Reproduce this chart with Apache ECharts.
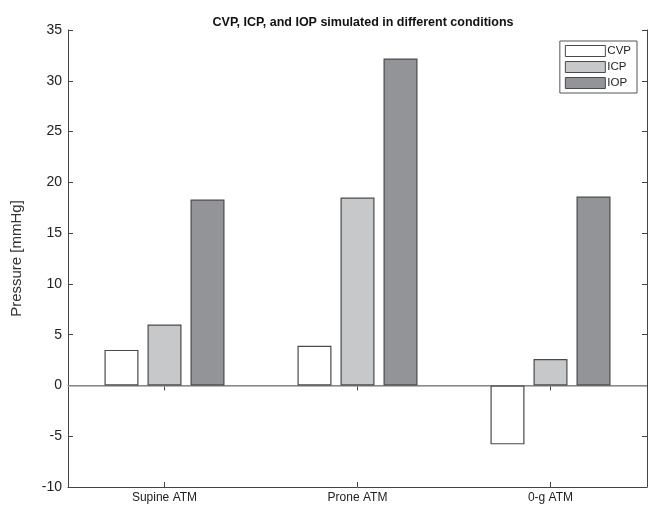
<!DOCTYPE html>
<html>
<head>
<meta charset="utf-8">
<script src="https://cdn.jsdelivr.net/npm/echarts@6/dist/echarts.min.js"></script>
<style>html,body{margin:0;padding:0;background:#fff}#c{width:650px;height:508px}</style>
</head>
<body>
<div id="c"></div>
<script>
const categories = ['Supine ATM', 'Prone ATM', '0-g ATM'];
const seriesNames = ['CVP', 'ICP', 'IOP'];
const cvp = [3.5, 3.9, -5.8];
const icp = [6.0, 18.5, 2.6];
const iop = [18.3, 32.2, 18.6];
const yTicks = [-10, -5, 0, 5, 10, 15, 20, 25, 30, 35];
const colors = ['#ffffff', '#c7c8ca', '#939498'];

const font = 'Liberation Sans, Arial, Helvetica, sans-serif';
const chart = echarts.init(document.getElementById('c'), null, {renderer: 'canvas'});
const values = [cvp, icp, iop];
const series = seriesNames.map((n, i) => ({
  name: n,
  type: 'bar',
  data: values[i],
  barWidth: 34,
  barGap: '26.5%',
  itemStyle: {color: colors[i], borderColor: '#4a4a4a', borderWidth: 1.2},
  emphasis: {disabled: true},
  z: 3,
  markLine: i === 0 ? {
    silent: true, symbol: 'none', label: {show: false},
    lineStyle: {color: '#a0a0a0', width: 1.5, type: 'solid'},
    data: [{yAxis: 0}], z: 2
  } : undefined
}));

chart.setOption({
  animation: false,
  backgroundColor: '#ffffff',
  title: {
    text: 'CVP, ICP, and IOP simulated in different conditions',
    left: 358, top: 11, textAlign: 'center',
    textStyle: {fontFamily: font, fontSize: 12.5, fontWeight: 'bold', color: '#111'}
  },
  legend: {
    data: seriesNames,
    orient: 'vertical',
    right: 13, top: 41,
    itemWidth: 40, itemHeight: 11, itemGap: 4,
    padding: [4, 6, 4, 5],
    borderColor: '#555', borderWidth: 1,
    backgroundColor: '#fff',
    icon: 'rect',
    textStyle: {fontFamily: font, fontSize: 11.5, color: '#222', padding: [0, 0, 0, -3]},
    itemStyle: {borderColor: '#4a4a4a', borderWidth: 1}
  },
  grid: {left: 68, right: 3, top: 30, bottom: 21, containLabel: false},
  xAxis: [{
    type: 'category', data: categories, position: 'bottom',
    axisLine: {onZero: false, lineStyle: {color: '#444', width: 1}},
    axisTick: {show: true, inside: true, alignWithLabel: true, length: 5, lineStyle: {color: '#444'}},
    axisLabel: {fontFamily: font, fontSize: 12, color: '#222', margin: 5}
  }, {
    type: 'category', data: categories, position: 'top',
    axisLine: {show: true, lineStyle: {color: '#444', width: 1}},
    axisTick: {show: true, inside: true, alignWithLabel: true, length: 5, lineStyle: {color: '#444'}},
    axisLabel: {show: false}
  }],
  yAxis: [{
    type: 'value', min: -10, max: 35, interval: 5,
    name: 'Pressure [mmHg]', nameLocation: 'middle', nameGap: 44,
    nameTextStyle: {fontFamily: font, fontSize: 15, color: '#333'},
    axisLine: {show: true, lineStyle: {color: '#444', width: 1}},
    axisTick: {show: true, inside: true, length: 5, lineStyle: {color: '#444'}},
    axisLabel: {fontFamily: font, fontSize: 14, color: '#222', margin: 6,
      formatter: v => yTicks.includes(v) ? String(v) : ''},
    splitLine: {show: false}
  }, {
    type: 'value', min: -10, max: 35, interval: 5, position: 'right',
    axisLine: {show: true, lineStyle: {color: '#444', width: 1}},
    axisTick: {show: true, inside: true, length: 5, lineStyle: {color: '#444'}},
    axisLabel: {show: false},
    splitLine: {show: false}
  }],
  series: series
});
</script>
</body>
</html>
